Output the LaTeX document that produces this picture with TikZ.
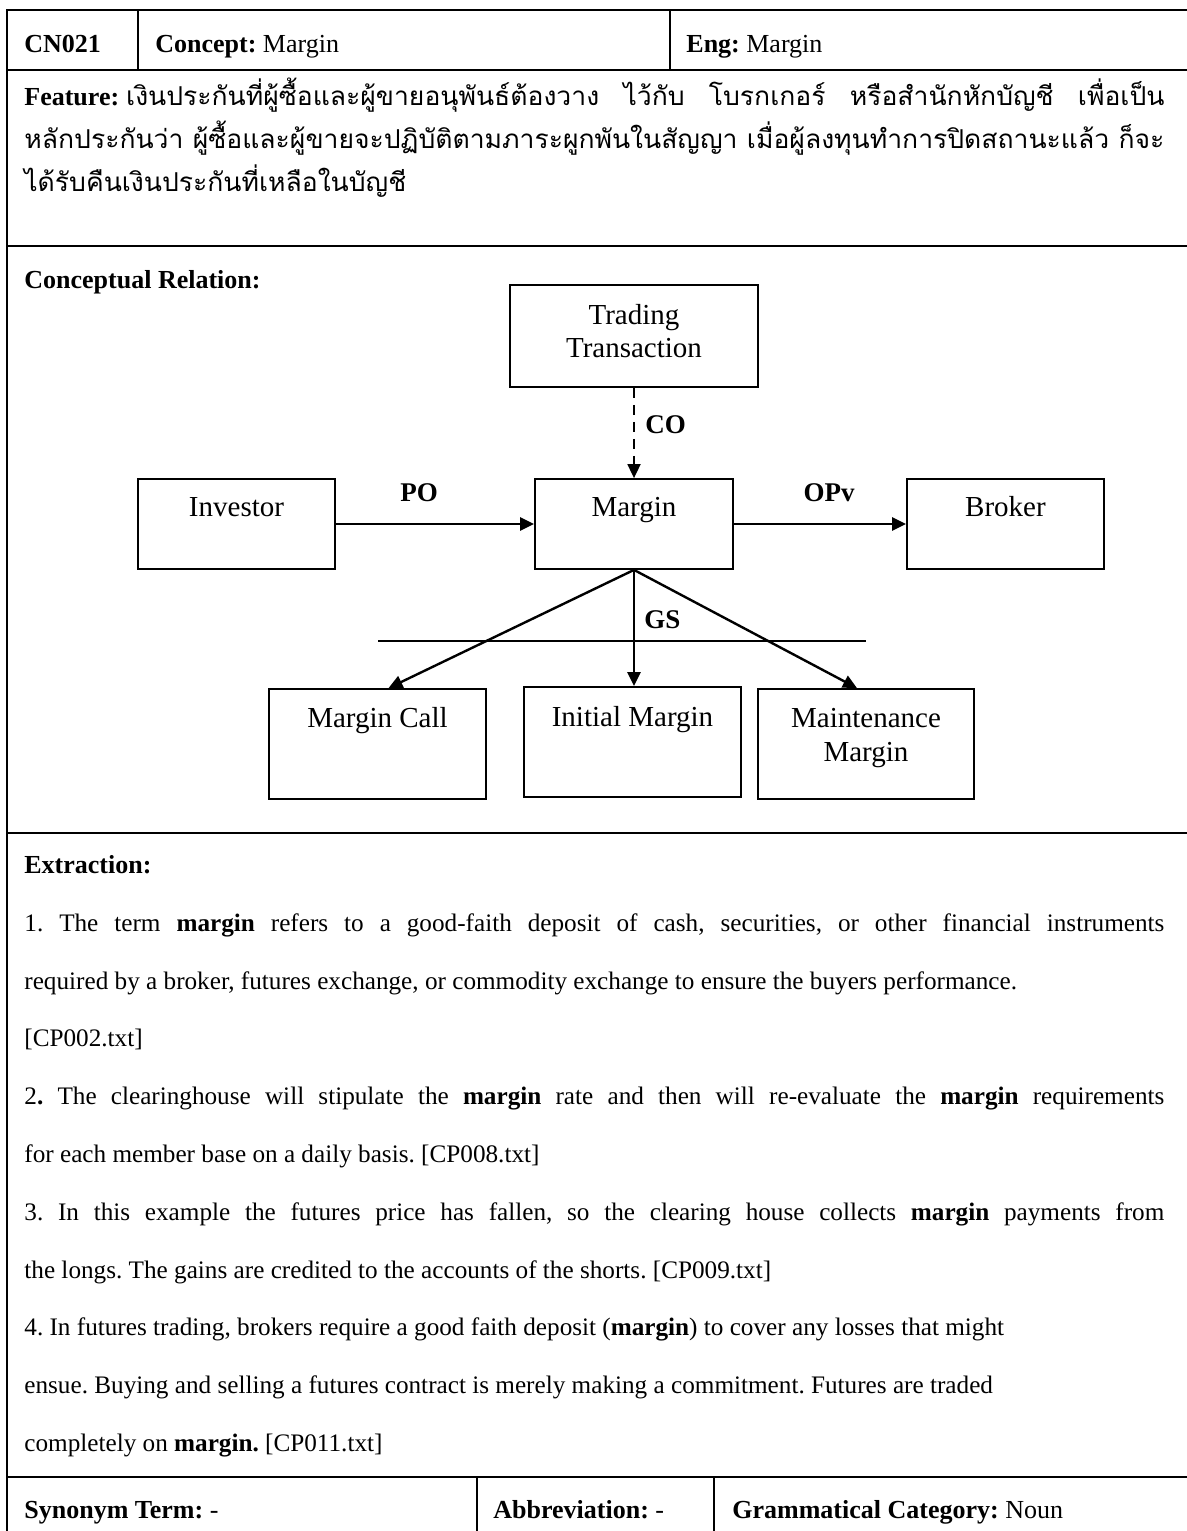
\documentclass[tikz,border=0pt]{standalone}
\usepackage{fontspec}
\setmainfont{Liberation Serif}
\newfontfamily\thai[Script=Thai,FakeStretch=1.02]{Loma}
\usetikzlibrary{arrows.meta,calc}
\frenchspacing
% stretchable gap between Thai phrases in a justified line
\newcommand\thgap{\hspace{5pt plus 1fil}}
\begin{document}
\begin{tikzpicture}[x=0.5pt,y=-0.5pt,
  rule/.style={line width=1.4pt},
  txt/.style={anchor=base west,inner sep=0pt,font=\fontsize{13}{15}\selectfont\frenchspacing},
  body/.style={anchor=base west,inner sep=0pt,font=\fontsize{12.6}{15}\selectfont\frenchspacing},
  thtxt/.style={anchor=base west,inner sep=0pt,font=\fontsize{13}{15}\selectfont},
  box/.style={draw,line width=0.9pt,inner sep=0pt},
  boxtxt/.style={anchor=base,inner sep=0pt,font=\fontsize{14.5}{17}\selectfont},
  lbl/.style={anchor=west,inner sep=0pt,font=\fontsize{13.5}{16}\selectfont\bfseries},
  arr/.style={line width=1.2pt,-{Triangle[length=7pt,width=6.5pt]}}]
\useasboundingbox (0,0) rectangle (1187,1531);

% table frame
\draw[rule] (7,10) -- (1190,10);
\draw[rule] (7,9) -- (7,1535);
\draw[rule] (7,70) -- (1190,70);
\draw[rule] (7,246) -- (1190,246);
\draw[rule] (7,833) -- (1190,833);
\draw[rule] (7,1477) -- (1190,1477);
\draw[line width=1pt] (138,10) -- (138,70);
\draw[line width=1pt] (670,10) -- (670,70);
\draw[line width=1pt] (477,1477) -- (477,1535);
\draw[line width=1pt] (714,1477) -- (714,1535);

% header row
\node[txt] (id) at (24,52) {\textbf{CN021}};
\node[txt] (concept) at (155,52) {\textbf{Concept:} Margin};
\node[txt] (eng) at (686,52) {\textbf{Eng:} Margin};

% feature
\node[thtxt] (f1) at (24,105) {\makebox[570pt][s]{\textbf{Feature:}\hspace{3.5pt}\thai เงินประกันที่ผู้ซื้อและผู้ขายอนุพันธ์ต้องวาง\thgap ไว้กับ\thgap โบรกเกอร์\thgap หรือสำนักหักบัญชี\thgap เพื่อเป็น}};
\node[thtxt] (f2) at (24,148) {\makebox[570pt][s]{\thai หลักประกันว่า ผู้ซื้อและผู้ขายจะปฏิบัติตามภาระผูกพันในสัญญา เมื่อผู้ลงทุนทำการปิดสถานะแล้ว ก็จะ}};
\node[thtxt] (f3) at (24,191) {\thai ได้รับคืนเงินประกันที่เหลือในบัญชี};

% conceptual relation
\node[txt] (cr) at (24,288) {\textbf{Conceptual Relation:}};

\node[box,minimum width=124pt,minimum height=51pt] (trade) at (634,336) {};
\node[box,minimum width=98.5pt,minimum height=45pt] (inv) at (236.5,524) {};
\node[box,minimum width=99pt,minimum height=45pt] (mar) at (634,524) {};
\node[box,minimum width=98.5pt,minimum height=45pt] (brk) at (1005.5,524) {};
\node[box,minimum width=108.5pt,minimum height=55pt] (call) at (377.5,744) {};
\node[box,minimum width=108.5pt,minimum height=55pt] (init) at (632.5,742) {};
\node[box,minimum width=108pt,minimum height=55pt] (maint) at (866,744) {};

\node[boxtxt] (t1) at ($(trade.north)+(0,40)$) {Trading};
\node[boxtxt] (t2) at ($(trade.north)+(0,73)$) {Transaction};
\node[boxtxt] (t3) at ($(inv.north)+(0,38)$) {Investor};
\node[boxtxt] (t4) at ($(mar.north)+(0,38)$) {Margin};
\node[boxtxt] (t5) at ($(brk.north)+(0,38)$) {Broker};
\node[boxtxt] (t6) at ($(call.north)+(0,39)$) {Margin Call};
\node[boxtxt] (t7) at ($(init.north)+(0,40)$) {Initial Margin};
\node[boxtxt] (t8) at ($(maint.north)+(0,39)$) {Maintenance};
\node[boxtxt] (t9) at ($(maint.north)+(0,73)$) {Margin};

\draw[arr,line width=0.9pt,dash pattern=on 5pt off 3.5pt] (trade.south) -- (mar.north);
\draw[arr] (inv) -- (mar);
\draw[arr] (mar) -- (brk);
\draw[arr] (mar.south) -- ([xshift=5.5pt]call.north);
\draw[arr] (mar.south) -- (mar.south |- init.north);
\draw[arr] (mar.south) -- ([xshift=-4.5pt]maint.north);

\coordinate (gsl) at (378,641);
\coordinate (gsr) at (866,641);
\draw[line width=0.9pt] (gsl) -- (gsr);

\node[lbl] (co) at (645,425) {CO};
\node[lbl,anchor=center] (po) at (419,493) {PO};
\node[lbl,anchor=center] (opv) at (829,493) {OPv};
\node[lbl] (gs) at (644,620) {GS};

% extraction
\node[txt] (ex) at (24,873) {\textbf{Extraction:}};
\node[body] (e1) at (24,931) {\makebox[570pt][s]{1. The term \textbf{margin} refers to a good-faith deposit of cash, securities, or other financial instruments}};
\node[body] (e2) at (24,989) {required by a broker, futures exchange, or commodity exchange to ensure the buyers performance.};
\node[body] (e3) at (24,1046) {[CP002.txt]};
\node[body] (e4) at (24,1104) {\makebox[570pt][s]{2\textbf{.} The clearinghouse will stipulate the \textbf{margin} rate and then will re-evaluate the \textbf{margin} requirements}};
\node[body] (e5) at (24,1162) {for each member base on a daily basis. [CP008.txt]};
\node[body] (e6) at (24,1220) {\makebox[570pt][s]{3. In this example the futures price has fallen, so the clearing house collects \textbf{margin} payments from}};
\node[body] (e7) at (24,1278) {the longs. The gains are credited to the accounts of the shorts. [CP009.txt]};
\node[body] (e8) at (24,1335) {4. In futures trading, brokers require a good faith deposit (\textbf{margin}) to cover any losses that might};
\node[body] (e9) at (24,1393) {ensue. Buying and selling a futures contract is merely making a commitment. Futures are traded};
\node[body] (e10) at (24,1451) {completely on \textbf{margin.} [CP011.txt]};

% bottom row
\node[txt] (syn) at (24,1518) {\textbf{Synonym Term:} -};
\node[txt] (abb) at (493,1518) {\textbf{Abbreviation:} -};
\node[txt] (gram) at (732,1518) {\textbf{Grammatical Category:} Noun};
\end{tikzpicture}
\end{document}
